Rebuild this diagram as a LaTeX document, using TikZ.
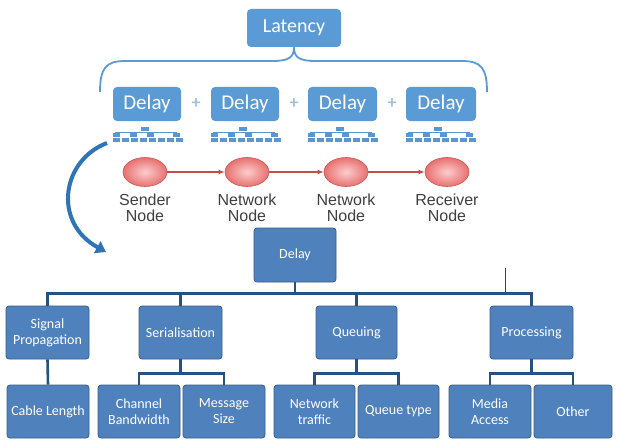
\documentclass[tikz,border=0pt]{standalone}
\usepackage{fontspec}
\setmainfont{Carlito}
\newfontfamily\arialf{Liberation Sans}
\usetikzlibrary{arrows.meta,shapes.geometric}
\definecolor{topblue}{RGB}{91,155,213}
\definecolor{boxblue}{RGB}{79,129,189}
\definecolor{boxedge}{RGB}{56,93,138}
\definecolor{connc}{RGB}{40,80,128}
\definecolor{arrowc}{RGB}{46,117,182}
\definecolor{plusc}{RGB}{157,195,230}
\definecolor{ellin}{RGB}{252,205,205}
\definecolor{ellout}{RGB}{232,112,112}
\definecolor{elledge}{RGB}{200,90,90}
\definecolor{redarrow}{RGB}{192,80,77}
\definecolor{labelc}{RGB}{64,64,64}
\definecolor{treec}{RGB}{90,150,210}
\begin{document}
\begin{tikzpicture}[x=1pt,y=-1pt,
  topbox/.style={fill=topblue, rounded corners=4pt, text=white, inner sep=0pt,
    font=\fontsize{21}{24}\selectfont},
  plus/.style={text=plusc, inner sep=0pt, font=\fontsize{18}{20}\selectfont\bfseries},
  brace/.style={draw=topblue, line width=1.8pt},
  ell/.style={ellipse, draw=elledge, line width=0.6pt, inner color=ellin, outer color=ellout,
    minimum width=44pt, minimum height=29pt, inner sep=0pt},
  redarr/.style={draw=redarrow, line width=1.2pt, -{Latex[length=6pt,width=5pt]}},
  lbl/.style={text=labelc, align=center, inner sep=0pt, font=\arialf\fontsize{16}{16}\selectfont},
  bbox/.style={fill=boxblue, draw=boxedge, line width=0.8pt, rounded corners=3pt, text=white,
    align=center, inner sep=0pt, minimum height=53pt, font=\fontsize{14}{16}\selectfont},
  conn/.style={draw=connc, line width=2.6pt},
  bigarrow/.style={draw=arrowc, line width=4pt, -{Triangle[length=10pt,width=13pt]}},
  minitree/.pic={
    \fill[treec] (28,0) rectangle +(8,3.5);
    \draw[treec, line width=0.6pt] (2,5) -- (64,5);
    \foreach \i in {0,17,34,60} \fill[treec] (\i,6) rectangle +(7,3.5);
    \foreach \i in {0,9,...,63} \fill[treec] (\i,11) rectangle +(7,3.5);
  }
]
\fill[white] (0,0) rectangle (617,441);
\useasboundingbox (0,0) rectangle (617,441);

% top part
\node[topbox, minimum width=94pt, minimum height=38pt, font=\fontsize{20}{24}\selectfont] (lat) at (294,28) {Latency};
\node[topbox, minimum width=68pt, minimum height=34pt] (d1) at (147,104) {Delay};
\node[topbox, minimum width=68pt, minimum height=34pt] (d2) at (245,104) {Delay};
\node[topbox, minimum width=69pt, minimum height=34pt] (d3) at (342.5,104) {Delay};
\node[topbox, minimum width=70pt, minimum height=34pt] (d4) at (441,104) {Delay};
\node[plus] (p1) at (196,104) {+};
\node[plus] (p2) at (294,104) {+};
\node[plus] (p3) at (392,104) {+};

\coordinate (bl) at (100,92);
\coordinate (br) at (487,92);
\draw[brace] (bl) .. controls (100,68) and (106,61) .. (125,61) -- (272,61)
  .. controls (288,61) and (294,58) .. (lat.south);
\draw[brace] (br) .. controls (487,68) and (481,61) .. (462,61) -- (316,61)
  .. controls (300,61) and (294,58) .. (lat.south);

\pic at (113,127) {minitree};
\pic at (211,127) {minitree};
\pic at (308,127) {minitree};
\pic at (406,127) {minitree};

% big curved arrow
\coordinate (arrS) at (107,143);
\coordinate (arrE) at (106,252);
\draw[bigarrow] (arrS) .. controls (62,160) and (52,222) .. (arrE);

% node chain
\node[ell] (e1) at (145,172) {};
\node[ell] (e2) at (247,172) {};
\node[ell] (e3) at (346,172) {};
\node[ell] (e4) at (447,172) {};
\draw[redarr] (e1.east) -- (e2.west);
\draw[redarr] (e2.east) -- (e3.west);
\draw[redarr] (e3.east) -- (e4.west);
\node[lbl, anchor=north] (l1) at ([yshift=-7pt]e1.south) {Sender\\Node};
\node[lbl, anchor=north] (l2) at ([yshift=-7pt]e2.south) {Network\\Node};
\node[lbl, anchor=north] (l3) at ([yshift=-7pt]e3.south) {Network\\Node};
\node[lbl, anchor=north] (l4) at ([yshift=-7pt]e4.south) {Receiver\\Node};

% bottom tree
\node[bbox, minimum width=82pt, minimum height=54pt] (dl) at (295,255) {Delay};
\node[bbox, minimum width=83pt] (sig) at (47.5,332.5) {Signal\\Propagation};
\node[bbox, minimum width=83pt] (ser) at (180.5,332.5) {Serialisation};
\node[bbox, minimum width=81pt] (que) at (356.5,332.5) {Queuing};
\node[bbox, minimum width=83pt] (pro) at (531.5,332.5) {Processing};

\node[bbox, minimum width=82pt] (cab) at (48,411.5) {Cable Length};
\node[bbox, minimum width=82pt] (chb) at (139,411.5) {Channel\\Bandwidth};
\node[bbox, minimum width=82pt] (msg) at (224,411.5) {Message\\Size};
\node[bbox, minimum width=81pt] (net) at (314.5,411.5) {Network\\traffic};
\node[bbox, minimum width=81pt] (qt) at (398.5,411.5) {Queue type};
\node[bbox, minimum width=82pt] (med) at (490,411.5) {Media\\Access};
\node[bbox, minimum width=78pt] (oth) at (573,411.5) {Other};

\begin{scope}[on background layer/.style={}]
\draw[conn] (dl.south) -- ++(0,11) -| (sig.north);
\draw[conn] (dl.south) -- ++(0,11) -| (ser.north);
\draw[conn] (dl.south) -- ++(0,11) -| (que.north);
\draw[conn] (dl.south) -- ++(0,11) -| (pro.north);
\draw[conn] (sig.south) -- (cab.north);
\draw[conn] (ser.south) -- ++(0,14) -| (chb.north);
\draw[conn] (ser.south) -- ++(0,14) -| (msg.north);
\draw[conn] (que.south) -- ++(0,14) -| (net.north);
\draw[conn] (que.south) -- ++(0,14) -| (qt.north);
\draw[conn] (pro.south) -- ++(0,14) -| (med.north);
\draw[conn] (pro.south) -- ++(0,14) -| (oth.north);
\end{scope}

\coordinate (s1) at (505,268);
\coordinate (s2) at (505,292);
\draw[line width=0.8pt, black!75] (s1) -- (s2);
\end{tikzpicture}
\end{document}
